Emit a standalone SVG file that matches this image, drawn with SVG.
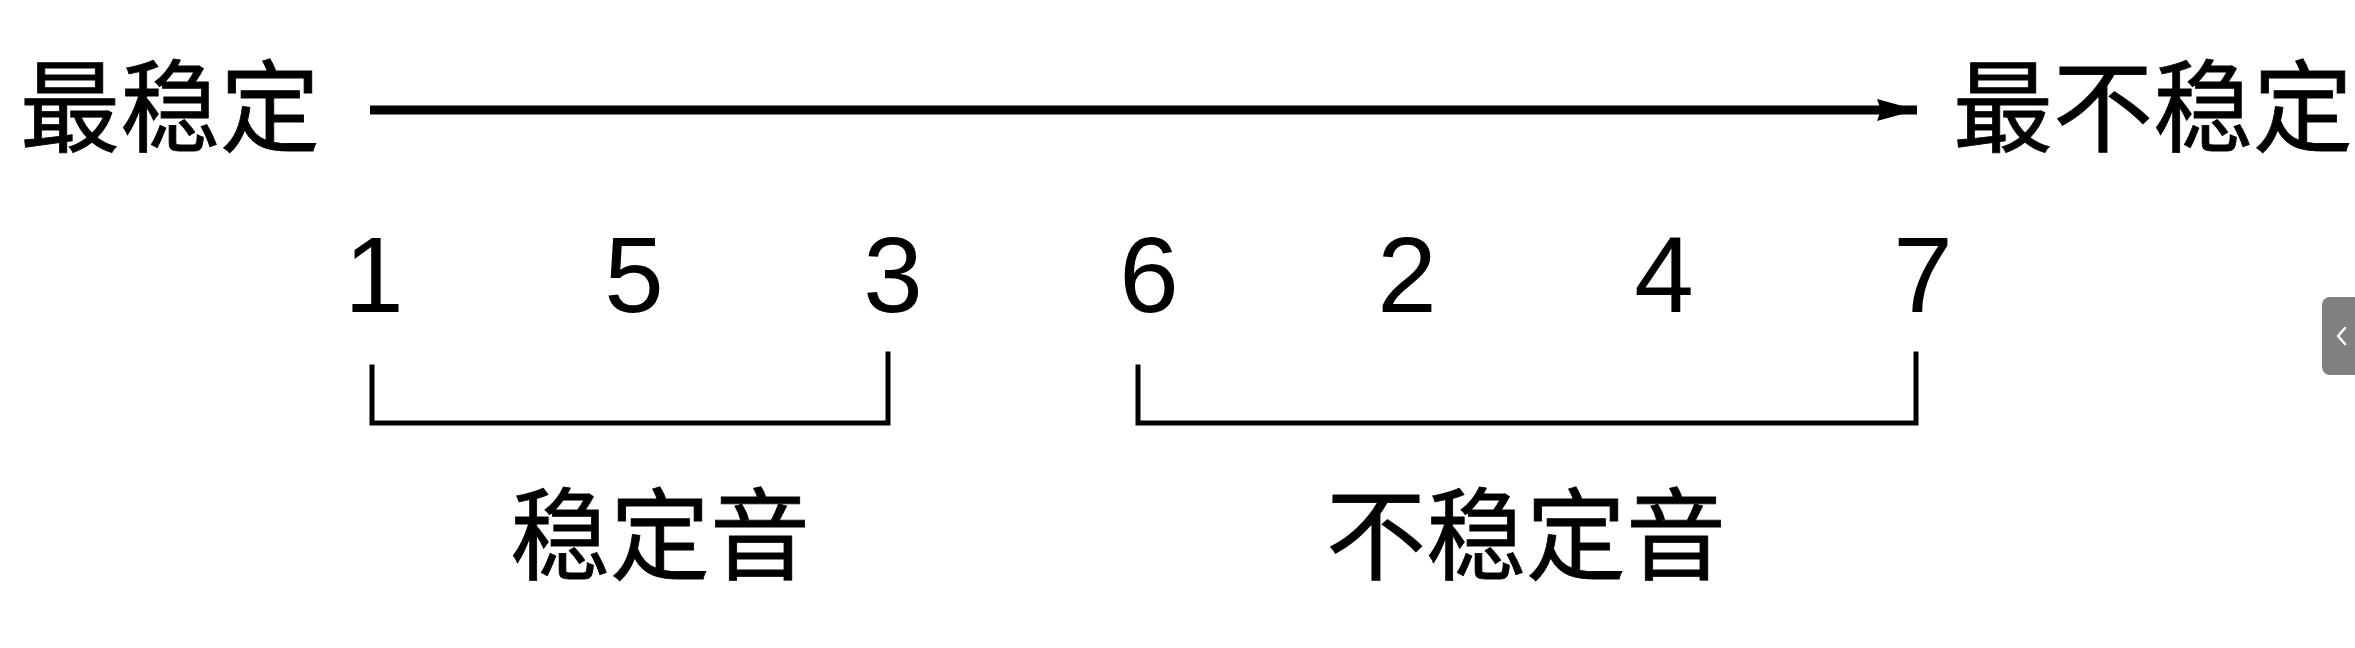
<svg xmlns="http://www.w3.org/2000/svg" width="2355" height="648" viewBox="0 0 2355 648">
<defs>
<style>
.cjk{font-family:"Noto Sans CJK SC","Noto Sans",sans-serif;font-size:100px;font-weight:400;fill:#000;stroke:#000;stroke-width:0.8;}
.num{font-family:"Liberation Sans",Arial,sans-serif;font-size:107px;fill:#000;text-anchor:middle;}
.ln{stroke:#000;fill:none;}
.br{stroke:#000;stroke-width:5;fill:none;stroke-linecap:square;}
</style>
<marker id="ah" markerUnits="userSpaceOnUse" markerWidth="44" markerHeight="26" refX="40" refY="11" orient="auto">
<polygon points="0,0 40,11 0,22 4,11" fill="#000"/>
</marker>
</defs>
<rect x="0" y="0" width="2355" height="648" fill="#fff"/>
<g id="label-most-stable"><text class="cjk" x="20" y="144">最稳定</text></g>
<g id="label-most-unstable"><text class="cjk" x="1953" y="144">最不稳定</text></g>
<g id="connectors">
<line class="ln" x1="370" y1="110" x2="1917" y2="110" stroke-width="9" marker-end="url(#ah)"/>
<polyline class="br" points="372,367 372,423 888,423 888,354"/>
<polyline class="br" points="1138,367 1138,423 1916,423 1916,354"/>
</g>
<g id="numbers">
<g id="n1"><text class="num" x="374" y="312">1</text></g>
<g id="n5"><text class="num" x="634" y="312">5</text></g>
<g id="n3"><text class="num" x="893" y="312">3</text></g>
<g id="n6"><text class="num" x="1149" y="312">6</text></g>
<g id="n2"><text class="num" x="1407" y="312">2</text></g>
<g id="n4"><text class="num" x="1664" y="312">4</text></g>
<g id="n7"><text class="num" x="1923" y="312">7</text></g>
</g>
<g id="label-stable"><text class="cjk" x="510" y="572">稳定音</text></g>
<g id="label-unstable"><text class="cjk" x="1326" y="572">不稳定音</text></g>
<g id="side-tab">
<path d="M2330,297 h25 v78 h-25 a8,8 0 0 1 -8,-8 v-62 a8,8 0 0 1 8,-8 z" fill="#808080"/>
<polyline points="2345,328 2338,336 2345,344" fill="none" stroke="#fff" stroke-width="2.5" stroke-linecap="round" stroke-linejoin="round"/>
</g>
</svg>
